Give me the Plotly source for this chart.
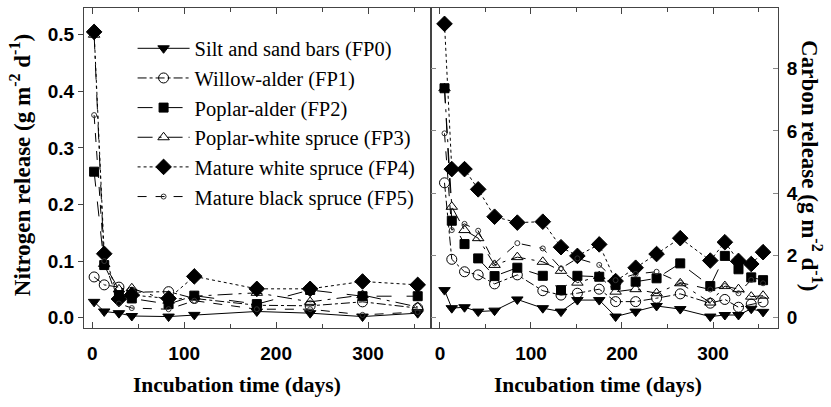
import plotly.graph_objects as go

# ---------------- data ----------------
days_N = [2, 13, 29, 43, 83, 111, 179, 237, 294, 354]
N_FP0 = [0.028, 0.011, 0.008, 0.003, 0.002, 0.005, 0.011, 0.008, 0.002, 0.008]
N_FP1 = [0.072, 0.058, 0.054, 0.045, 0.046, 0.034, 0.022, 0.021, 0.028, 0.017]
N_FP2 = [0.258, 0.093, 0.040, 0.034, 0.024, 0.039, 0.024, 0.049, 0.038, 0.038]
N_FP3 = [0.500, 0.095, 0.050, 0.052, 0.030, 0.038, 0.044, 0.028, 0.040, 0.019]
N_FP4 = [0.505, 0.113, 0.033, 0.040, 0.034, 0.073, 0.051, 0.051, 0.064, 0.058]
N_FP5 = [0.358, 0.100, 0.025, 0.017, 0.015, 0.030, 0.015, 0.015, 0.005, 0.010]

days_C = [5, 13, 27, 42, 60, 85, 113, 133, 151, 175, 193, 215, 238, 264, 297, 313, 328, 342, 355]
C_FP0 = [0.88, 0.30, 0.33, 0.19, 0.22, 0.58, 0.30, 0.19, 0.56, 0.56, 0.03, 0.19, 0.37, 0.27, 0.03, 0.08, 0.08, 0.28, 0.18]
C_FP1 = [4.33, 1.87, 1.47, 1.37, 1.08, 1.37, 0.86, 0.72, 0.78, 0.91, 0.51, 0.51, 0.62, 0.76, 0.46, 0.58, 0.33, 0.43, 0.50]
C_FP2 = [7.37, 3.11, 2.36, 1.90, 1.33, 1.60, 1.34, 0.88, 1.34, 1.31, 1.04, 1.15, 1.26, 1.74, 1.01, 1.98, 1.55, 1.29, 1.20]
C_FP3 = [7.37, 3.56, 2.81, 2.55, 1.69, 1.94, 1.79, 1.50, 1.12, 1.33, 0.83, 0.91, 0.78, 1.10, 0.48, 1.01, 0.91, 0.67, 0.70]
C_FP4 = [9.44, 4.77, 4.77, 4.12, 3.24, 3.05, 3.08, 2.26, 1.98, 2.35, 1.17, 1.60, 2.04, 2.55, 1.83, 2.42, 1.82, 1.72, 2.10]
C_FP5 = [5.92, 2.81, 3.01, 2.79, 1.74, 2.39, 2.22, 1.58, 1.90, 1.69, 1.20, 1.40, 1.47, 1.12, 0.90, 1.01, 0.78, 1.21, 1.10]

names = ["Silt and sand bars (FP0)", "Willow-alder (FP1)", "Poplar-alder (FP2)",
         "Poplar-white spruce (FP3)", "Mature white spruce (FP4)", "Mature black spruce (FP5)"]
N_series = [N_FP0, N_FP1, N_FP2, N_FP3, N_FP4, N_FP5]
C_series = [C_FP0, C_FP1, C_FP2, C_FP3, C_FP4, C_FP5]

# ---------------- styles ----------------
styles = [
    dict(dash="solid", symbol="triangle-down", size=10, fill="black"),
    dict(dash="dashdot", symbol="circle-open", size=10, fill="black"),
    dict(dash="longdash", symbol="square", size=9, fill="black"),
    dict(dash="longdashdot", symbol="triangle-up-open", size=10, fill="black"),
    dict(dash="dot", symbol="diamond", size=12, fill="black"),
    dict(dash="dash", symbol="circle-open", size=5, fill="#333"),
]

fig = go.Figure()
for i, (nm, st) in enumerate(zip(names, styles)):
    for j, (xs, ys, xa, ya) in enumerate([(days_N, N_series[i], "x", "y"),
                                          (days_C, C_series[i], "x2", "y2")]):
        fig.add_trace(go.Scatter(
            x=xs, y=ys, xaxis=xa, yaxis=ya, name=nm, legendgroup=nm,
            showlegend=(j == 0), mode="lines+markers",
            line=dict(color="black", width=1, dash=st["dash"]),
            marker=dict(symbol=st["symbol"], size=st["size"], color=st["fill"],
                        line=dict(color="black", width=1)),
        ))

axcol = "#444"
tickfont = dict(family="Liberation Sans", size=19, color="black", weight="bold")
L, R = 0.5007, 1.0
xcommon = dict(showline=True, linecolor=axcol, linewidth=1, mirror="ticks",
               ticks="inside", ticklen=6, tickcolor=axcol,
               tickvals=[0, 100, 200, 300], tickfont=tickfont,
               ticklabelstandoff=8, zeroline=False, showgrid=False,
               minor=dict(ticks="inside", ticklen=4, dtick=50, tick0=0, tickcolor=axcol))

fig.update_layout(
    width=831, height=407,
    margin=dict(l=84, r=53, t=8, b=79),
    paper_bgcolor="white", plot_bgcolor="white",
    xaxis=dict(domain=[0, L], range=[-9, 369], anchor="y", **xcommon),
    xaxis2=dict(domain=[L, R], range=[-9.3, 371.4], anchor="y2", **xcommon),
    yaxis=dict(domain=[0, 1], range=[-0.0182, 0.5472], anchor="x",
               showline=True, linecolor=axcol, linewidth=1, mirror=True,
               ticks="outside", ticklen=5, tickcolor=axcol,
               tickvals=[0, 0.1, 0.2, 0.3, 0.4, 0.5], ticktext=["0.0", "0.1", "0.2", "0.3", "0.4", "0.5"],
               tickfont=tickfont, zeroline=False, showgrid=False),
    yaxis3=dict(overlaying="y", side="right", anchor="x", range=[-0.0182, 0.5472],
                ticks="inside", ticklen=5, tickcolor=axcol, showticklabels=False,
                tickvals=[0, 0.1, 0.2, 0.3, 0.4, 0.5], showgrid=False, zeroline=False),
    yaxis2=dict(domain=[0, 1], range=[-0.338, 9.95], anchor="x2", side="right",
                showline=True, linecolor=axcol, linewidth=1, mirror="ticks",
                ticks="inside", ticklen=5, tickcolor="#888",
                tickvals=[0, 2, 4, 6, 8], tickfont=tickfont, ticklabelstandoff=4,
                zeroline=False, showgrid=False),
    showlegend=True,
    legend=dict(x=0.07, y=0.936, xanchor="left", yanchor="top",
                bgcolor="rgba(0,0,0,0)", borderwidth=0, itemwidth=52,
                font=dict(family="Liberation Serif", size=20.5, color="black"),
                tracegroupgap=0),
)

title_font = dict(family="Liberation Serif", size=21.5, color="black", weight="bold")
vt_font = dict(family="Liberation Serif", size=23, color="black", weight="bold")
fig.add_annotation(text="Incubation time (days)", xref="paper", yref="paper",
                   x=0.2205, y=-0.178, showarrow=False, font=title_font,
                   xanchor="center", yanchor="middle")
fig.add_annotation(text="Incubation time (days)", xref="paper", yref="paper",
                   x=0.7406, y=-0.178, showarrow=False, font=title_font,
                   xanchor="center", yanchor="middle")
fig.add_annotation(text="Nitrogen release (g m<sup>-2</sup> d<sup>-1</sup>)", xref="paper", yref="paper",
                   x=-0.0922, y=0.509, showarrow=False, font=vt_font, textangle=-90,
                   xanchor="center", yanchor="middle")
fig.add_annotation(text="Carbon release (g m<sup>-2</sup> d<sup>-1</sup>)", xref="paper", yref="paper",
                   x=1.049, y=0.509, showarrow=False, font=vt_font, textangle=90,
                   xanchor="center", yanchor="middle")

fig.write_html("out.html")
